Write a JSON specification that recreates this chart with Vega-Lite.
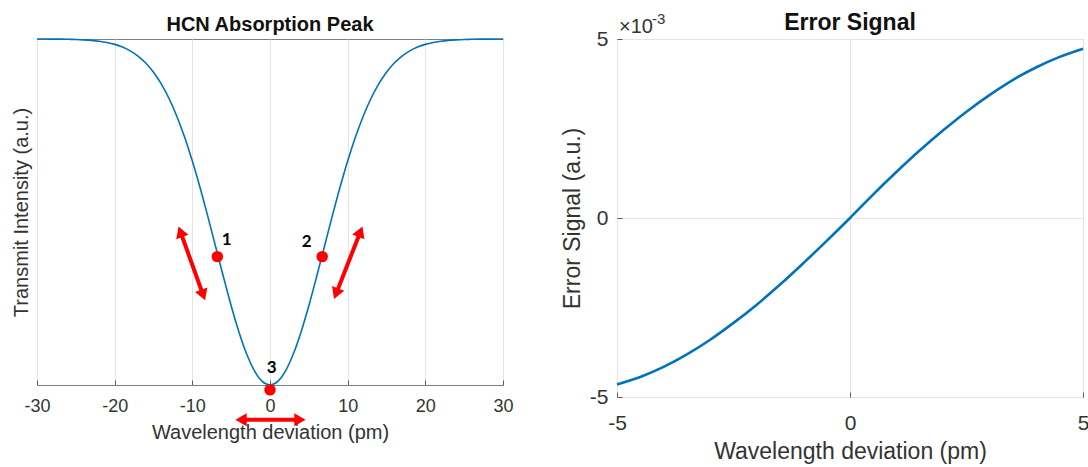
{
  "$schema": "https://vega.github.io/schema/vega-lite/v6.json",
  "padding": {"left": 10, "top": 11, "right": 0, "bottom": 0},
  "spacing": 46,
  "config": {
    "font": "Liberation Sans",
    "view": {"stroke": "#7f7f7f", "strokeWidth": 1},
    "axis": {"domain": false, "ticks": true, "tickSize": -5, "tickColor": "#5a5a5a", "grid": true, "gridColor": "#e4e4e4", "labelColor": "#333333", "titleColor": "#333333", "titleFontWeight": "normal", "labelFont": "Liberation Sans", "titleFont": "Liberation Sans", "labelFlush": false},
    "title": {"fontWeight": "bold", "color": "#111111", "font": "Liberation Sans"}
  },
  "datasets": {
    "absorption": [
      {"wavelength": -30, "transmission": 0.9999}, {"wavelength": -29, "transmission": 0.9998}, {"wavelength": -28, "transmission": 0.9997},
      {"wavelength": -27, "transmission": 0.9995}, {"wavelength": -26, "transmission": 0.9991}, {"wavelength": -25, "transmission": 0.9985},
      {"wavelength": -24, "transmission": 0.9975}, {"wavelength": -23, "transmission": 0.996}, {"wavelength": -22, "transmission": 0.9935},
      {"wavelength": -21, "transmission": 0.9899}, {"wavelength": -20, "transmission": 0.9845}, {"wavelength": -19, "transmission": 0.9767},
      {"wavelength": -18, "transmission": 0.9658}, {"wavelength": -17, "transmission": 0.9507}, {"wavelength": -16, "transmission": 0.9305},
      {"wavelength": -15, "transmission": 0.904}, {"wavelength": -14, "transmission": 0.8702}, {"wavelength": -13, "transmission": 0.828},
      {"wavelength": -12, "transmission": 0.7769}, {"wavelength": -11, "transmission": 0.7165}, {"wavelength": -10, "transmission": 0.6471},
      {"wavelength": -9, "transmission": 0.5699}, {"wavelength": -8, "transmission": 0.4866}, {"wavelength": -7, "transmission": 0.3997},
      {"wavelength": -6, "transmission": 0.3127}, {"wavelength": -5, "transmission": 0.2293}, {"wavelength": -4, "transmission": 0.1535},
      {"wavelength": -3, "transmission": 0.0895}, {"wavelength": -2, "transmission": 0.0408}, {"wavelength": -1, "transmission": 0.0104},
      {"wavelength": 0, "transmission": 0},
      {"wavelength": 1, "transmission": 0.0104}, {"wavelength": 2, "transmission": 0.0408}, {"wavelength": 3, "transmission": 0.0895},
      {"wavelength": 4, "transmission": 0.1535}, {"wavelength": 5, "transmission": 0.2293}, {"wavelength": 6, "transmission": 0.3127},
      {"wavelength": 7, "transmission": 0.3997}, {"wavelength": 8, "transmission": 0.4866}, {"wavelength": 9, "transmission": 0.5699},
      {"wavelength": 10, "transmission": 0.6471}, {"wavelength": 11, "transmission": 0.7165}, {"wavelength": 12, "transmission": 0.7769},
      {"wavelength": 13, "transmission": 0.828}, {"wavelength": 14, "transmission": 0.8702}, {"wavelength": 15, "transmission": 0.904},
      {"wavelength": 16, "transmission": 0.9305}, {"wavelength": 17, "transmission": 0.9507}, {"wavelength": 18, "transmission": 0.9658},
      {"wavelength": 19, "transmission": 0.9767}, {"wavelength": 20, "transmission": 0.9845}, {"wavelength": 21, "transmission": 0.9899},
      {"wavelength": 22, "transmission": 0.9935}, {"wavelength": 23, "transmission": 0.996}, {"wavelength": 24, "transmission": 0.9975},
      {"wavelength": 25, "transmission": 0.9985}, {"wavelength": 26, "transmission": 0.9991}, {"wavelength": 27, "transmission": 0.9995},
      {"wavelength": 28, "transmission": 0.9997}, {"wavelength": 29, "transmission": 0.9998}, {"wavelength": 30, "transmission": 0.9999}
    ],
    "markers": [
      {"marker": "1", "wavelength": -6.78, "transmission": 0.371, "label_x": -5.57, "label_y": 0.419},
      {"marker": "2", "wavelength": 6.72, "transmission": 0.371, "label_x": 4.72, "label_y": 0.414},
      {"marker": "3", "wavelength": 0, "transmission": -0.014, "label_x": 0.22, "label_y": 0.048}
    ],
    "arrows": [
      {"arrow": "1", "x_start": -8.61, "y_start": 0.26, "x_end": -11.53, "y_end": 0.443},
      {"arrow": "2", "x_start": 8.51, "y_start": 0.264, "x_end": 11.64, "y_end": 0.443},
      {"arrow": "3", "x_start": -3.73, "y_start": -0.1005, "x_end": 3.86, "y_end": -0.1005}
    ],
    "error": [
      {"wavelength": -5, "error_signal": -0.00465}, {"wavelength": -4.5, "error_signal": -0.00444},
      {"wavelength": -4, "error_signal": -0.00416}, {"wavelength": -3.5, "error_signal": -0.00381},
      {"wavelength": -3, "error_signal": -0.0034}, {"wavelength": -2.5, "error_signal": -0.00293},
      {"wavelength": -2, "error_signal": -0.00242}, {"wavelength": -1.5, "error_signal": -0.00186},
      {"wavelength": -1, "error_signal": -0.00126}, {"wavelength": -0.5, "error_signal": -0.00064},
      {"wavelength": 0, "error_signal": 0},
      {"wavelength": 0.5, "error_signal": 0.00066}, {"wavelength": 1, "error_signal": 0.00129},
      {"wavelength": 1.5, "error_signal": 0.00189}, {"wavelength": 2, "error_signal": 0.00245},
      {"wavelength": 2.5, "error_signal": 0.00297}, {"wavelength": 3, "error_signal": 0.00344},
      {"wavelength": 3.5, "error_signal": 0.00386}, {"wavelength": 4, "error_signal": 0.00421},
      {"wavelength": 4.5, "error_signal": 0.0045}, {"wavelength": 5, "error_signal": 0.00473}
    ],
    "exponent": [{"base": "×10", "power": "-3"}]
  },
  "hconcat": [
    {
      "width": 466,
      "height": 346,
      "title": {"text": "HCN Absorption Peak", "fontSize": 20, "offset": 1},
      "layer": [
        {
          "data": {"name": "absorption"},
          "mark": {"type": "line", "color": "#0072BD", "strokeWidth": 1.6, "interpolate": "monotone"},
          "encoding": {
            "x": {"field": "wavelength", "type": "quantitative", "scale": {"domain": [-30, 30], "nice": false, "zero": false},
                  "axis": {"values": [-30, -20, -10, 0, 10, 20, 30], "title": "Wavelength deviation (pm)", "labelFontSize": 18, "titleFontSize": 20, "labelPadding": 17, "titlePadding": 7, "labelExpr": "'' + datum.value"}},
            "y": {"field": "transmission", "type": "quantitative", "scale": {"domain": [0, 1], "nice": false, "zero": false},
                  "axis": {"labels": false, "ticks": false, "grid": false, "title": "Transmit Intensity (a.u.)", "titleFontSize": 20, "titlePadding": 6}}
          }
        },
        {
          "data": {"name": "arrows"},
          "mark": {"type": "rule", "color": "#ff0000", "strokeWidth": 4},
          "encoding": {
            "x": {"field": "x_start", "type": "quantitative"},
            "y": {"field": "y_start", "type": "quantitative"},
            "x2": {"field": "x_end"},
            "y2": {"field": "y_end"}
          }
        },
        {
          "data": {"name": "arrows"},
          "transform": [{"filter": "datum.arrow == '1'"}],
          "mark": {"type": "point", "shape": "triangle-up", "filled": true, "opacity": 1, "color": "#ff0000", "size": 170, "angle": -19.7},
          "encoding": {"x": {"field": "x_end", "type": "quantitative"}, "y": {"field": "y_end", "type": "quantitative"}}
        },
        {
          "data": {"name": "arrows"},
          "transform": [{"filter": "datum.arrow == '1'"}],
          "mark": {"type": "point", "shape": "triangle-up", "filled": true, "opacity": 1, "color": "#ff0000", "size": 170, "angle": 160.3},
          "encoding": {"x": {"field": "x_start", "type": "quantitative"}, "y": {"field": "y_start", "type": "quantitative"}}
        },
        {
          "data": {"name": "arrows"},
          "transform": [{"filter": "datum.arrow == '2'"}],
          "mark": {"type": "point", "shape": "triangle-up", "filled": true, "opacity": 1, "color": "#ff0000", "size": 170, "angle": 21.4},
          "encoding": {"x": {"field": "x_end", "type": "quantitative"}, "y": {"field": "y_end", "type": "quantitative"}}
        },
        {
          "data": {"name": "arrows"},
          "transform": [{"filter": "datum.arrow == '2'"}],
          "mark": {"type": "point", "shape": "triangle-up", "filled": true, "opacity": 1, "color": "#ff0000", "size": 170, "angle": 201.4},
          "encoding": {"x": {"field": "x_start", "type": "quantitative"}, "y": {"field": "y_start", "type": "quantitative"}}
        },
        {
          "data": {"name": "arrows"},
          "transform": [{"filter": "datum.arrow == '3'"}],
          "mark": {"type": "point", "shape": "triangle-up", "filled": true, "opacity": 1, "color": "#ff0000", "size": 170, "angle": 90},
          "encoding": {"x": {"field": "x_end", "type": "quantitative"}, "y": {"field": "y_end", "type": "quantitative"}}
        },
        {
          "data": {"name": "arrows"},
          "transform": [{"filter": "datum.arrow == '3'"}],
          "mark": {"type": "point", "shape": "triangle-up", "filled": true, "opacity": 1, "color": "#ff0000", "size": 170, "angle": -90},
          "encoding": {"x": {"field": "x_start", "type": "quantitative"}, "y": {"field": "y_start", "type": "quantitative"}}
        },
        {
          "data": {"name": "markers"},
          "mark": {"type": "point", "shape": "circle", "filled": true, "opacity": 1, "color": "#ff0000", "size": 130},
          "encoding": {"x": {"field": "wavelength", "type": "quantitative"}, "y": {"field": "transmission", "type": "quantitative"}}
        },
        {
          "data": {"name": "markers"},
          "mark": {"type": "text", "font": "Lato", "fontWeight": "bold", "fontSize": 17, "color": "#000000", "align": "center", "baseline": "middle"},
          "encoding": {"x": {"field": "label_x", "type": "quantitative"}, "y": {"field": "label_y", "type": "quantitative"}, "text": {"field": "marker"}}
        }
      ]
    },
    {
      "width": 466,
      "height": 358,
      "title": {"text": "Error Signal", "fontSize": 23, "offset": -23},
      "layer": [
        {
          "data": {"name": "error"},
          "mark": {"type": "line", "color": "#0072BD", "strokeWidth": 2.6, "interpolate": "monotone"},
          "encoding": {
            "x": {"field": "wavelength", "type": "quantitative", "scale": {"domain": [-5, 5], "nice": false, "zero": false},
                  "axis": {"values": [-5, 0, 5], "title": "Wavelength deviation (pm)", "labelFontSize": 21, "titleFontSize": 23, "labelPadding": 20, "titlePadding": 7, "labelExpr": "'' + datum.value"}},
            "y": {"field": "error_signal", "type": "quantitative", "scale": {"domain": [-0.005, 0.005], "nice": false, "zero": false},
                  "axis": {"values": [-0.005, 0, 0.005], "title": "Error Signal (a.u.)", "labelFontSize": 21, "titleFontSize": 23, "labelPadding": 14, "titlePadding": 5, "labelExpr": "'' + round(datum.value * 1000)"}}
          }
        },
        {
          "data": {"name": "exponent"},
          "mark": {"type": "text", "fontSize": 20, "color": "#333333", "align": "left", "baseline": "alphabetic", "dx": 2, "dy": -6},
          "encoding": {"x": {"datum": -5, "type": "quantitative"}, "y": {"datum": 0.005, "type": "quantitative"}, "text": {"field": "base"}}
        },
        {
          "data": {"name": "exponent"},
          "mark": {"type": "text", "fontSize": 15, "color": "#333333", "align": "left", "baseline": "alphabetic", "dx": 35, "dy": -15},
          "encoding": {"x": {"datum": -5, "type": "quantitative"}, "y": {"datum": 0.005, "type": "quantitative"}, "text": {"field": "power"}}
        }
      ]
    }
  ]
}
